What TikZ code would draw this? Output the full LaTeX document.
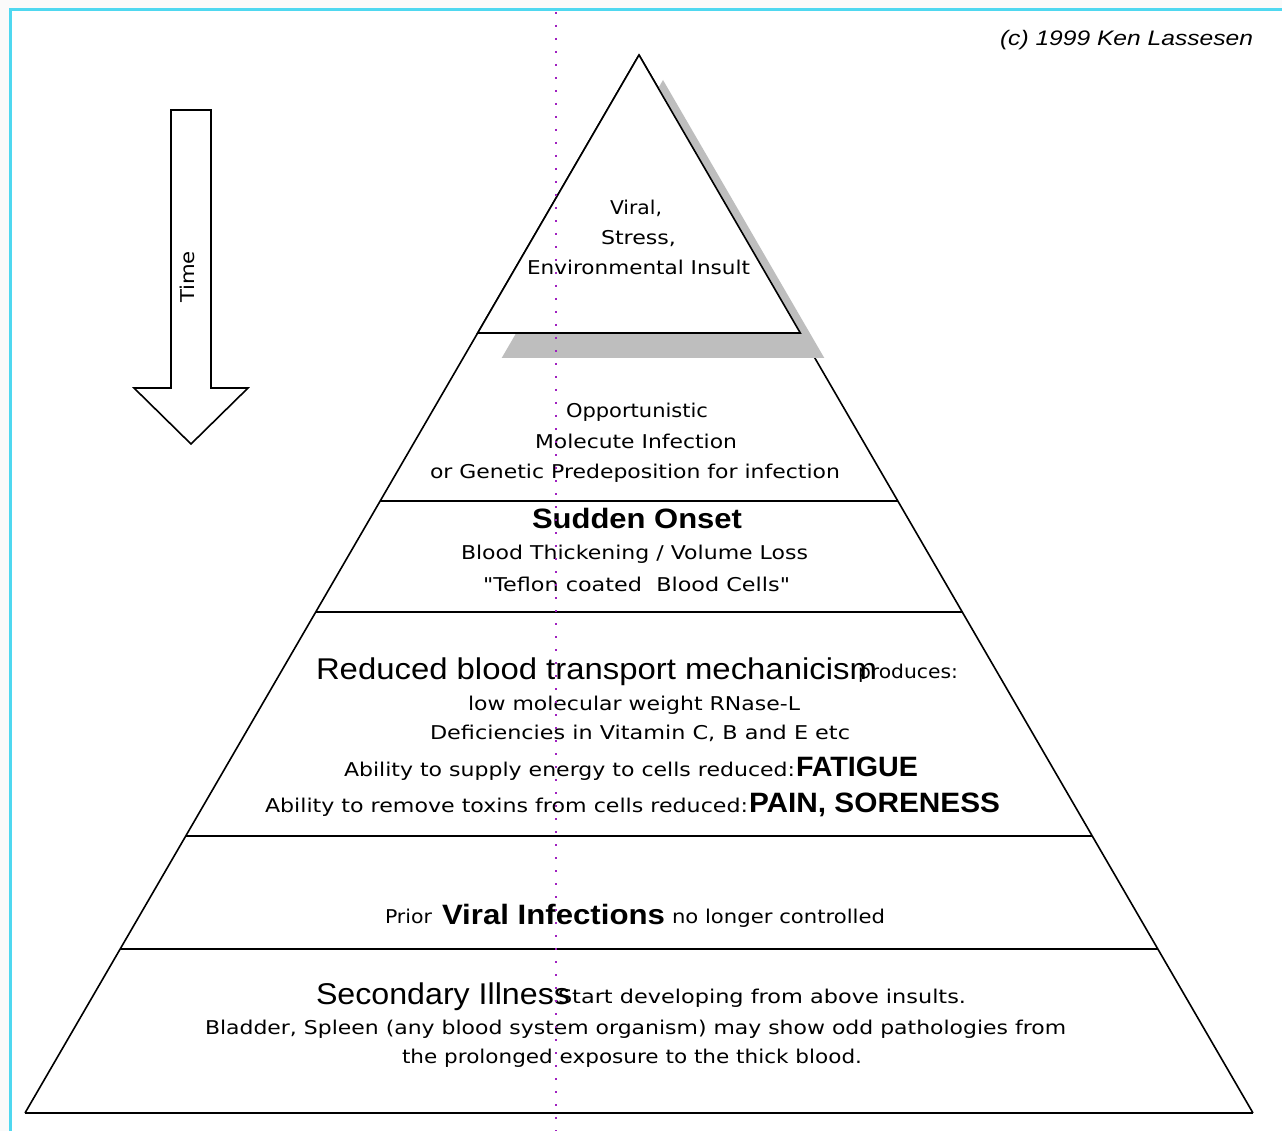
\documentclass[tikz,border=0pt]{standalone}
\usepackage{fontspec}
\usepackage{graphicx}
\setmainfont{Liberation Sans}
\newfontfamily\dvsans{DejaVu Sans}
\usetikzlibrary{calc}

% stretch a piece of text horizontally to a given width (in pt)
\newsavebox\fitbox
\newlength\fitwd
\newcommand\fitto[2]{\sbox\fitbox{#2}\setlength\fitwd{\wd\fitbox}%
  \pgfmathsetmacro\fitr{#1/\fitwd}\scalebox{\fitr}[1]{\usebox\fitbox}}

\definecolor{framecyan}{HTML}{4FD8F0}
\definecolor{guideviolet}{HTML}{A020C0}
\definecolor{shadowgray}{HTML}{BEBEBE}

\tikzset{
  lbl/.style={anchor=base west, inner sep=0pt, outer sep=0pt},
  sm/.style={lbl, font=\dvsans\fontsize{19}{21}\selectfont},
  bold/.style={lbl, font=\bfseries\fontsize{28}{30}\selectfont},
  big/.style={lbl, font=\fontsize{30}{32}\selectfont},
  edge/.style={line width=1.6pt, black},
  tier/.style={line width=2pt, black},
}

\begin{document}
\begin{tikzpicture}[x=1pt, y=-1pt]
\useasboundingbox (0,0) rectangle (1282,1131);
\fill[gray!4] (0,0) rectangle (1282,1131);
\fill[white] (10,10) rectangle (1282,1131);
\draw[framecyan, line width=3pt] (10,1131) -- (10,10) -- (1282,10);

% pyramid corners
\coordinate (apex) at (639,55);
\coordinate (bl) at (25,1113);
\coordinate (br) at (1253,1113);
\coordinate (l1) at (477.7,333);  \coordinate (r1) at (800.3,333);
\coordinate (l2) at (380.2,501);  \coordinate (r2) at (897.8,501);
\coordinate (l3) at (315.8,612);  \coordinate (r3) at (962.2,612);
\coordinate (l4) at (185.8,836);  \coordinate (r4) at (1092.2,836);
\coordinate (l5) at (120.2,949);  \coordinate (r5) at (1157.8,949);

% outer slopes and tier lines
\draw[edge] (apex) -- (bl);
\draw[edge] (apex) -- (br);
\draw[tier] (l2) -- (r2);
\draw[tier] (l3) -- (r3);
\draw[tier] (l4) -- (r4);
\draw[tier] (l5) -- (r5);
\draw[line width=2.8pt] (bl) -- (br);

% drop shadow of the top triangle
\fill[shadowgray] ($(apex)+(24,25)$) -- ($(l1)+(24,25)$) -- ($(r1)+(24,25)$) -- cycle;
\draw[edge, fill=white] (apex) -- (l1) -- (r1) -- cycle;

% time arrow
\draw[line width=1.6pt, fill=white]
  (171,110) -- (211,110) -- (211,388) -- (248,388) -- (191,444)
  -- (134,388) -- (171,388) -- cycle;
\node[rotate=90, inner sep=0pt, font=\dvsans\fontsize{19}{21}\selectfont] (time) at (187,277) {\fitto{52}{Time}};

% copyright
\node[lbl, font=\itshape\fontsize{21}{24}\selectfont] (copy) at (1000,46) {\fitto{253}{(c) 1999 Ken Lassesen}};

% top tier
\node[sm] (a1) at (610,215) {\fitto{52}{Viral,}};
\node[sm] (a2) at (601,245) {\fitto{75}{Stress,}};
\node[sm] (a3) at (527,275) {\fitto{223}{Environmental Insult}};

% second tier
\node[sm] (b1) at (566,417) {\fitto{142}{Opportunistic}};
\node[sm] (b2) at (535,448) {\fitto{202}{Molecute Infection}};
\node[sm] (b3) at (430,478) {\fitto{410}{or Genetic Predeposition for infection}};

% third tier
\node[bold] (c1) at (532,528) {\fitto{210}{Sudden Onset}};
\node[sm] (c2) at (461,559) {\fitto{347}{Blood Thickening / Volume Loss}};
\node[sm] (c3) at (483,591) {\fitto{307}{"Teflon coated \ Blood Cells"}};

% fourth tier
\node[big] (d1) at (316,679) {\fitto{561}{Reduced blood transport mechanicism}};
\node[sm] (d2) at (858,678) {\fitto{100}{produces:}};
\node[sm] (d3) at (468,710) {\fitto{332}{low molecular weight RNase-L}};
\node[sm] (d4) at (430,739) {\fitto{420}{Deficiencies in Vitamin C, B and E etc}};
\node[sm] (d5) at (344,776) {\fitto{451}{Ability to supply energy to cells reduced:}};
\node[bold] (d6) at (796,776) {\fitto{122}{FATIGUE}};
\node[sm] (d7) at (265,812) {\fitto{483}{Ability to remove toxins from cells reduced:}};
\node[bold] (d8) at (749,812) {\fitto{251}{PAIN, SORENESS}};

% fifth tier
\node[sm] (e1) at (385,923) {\fitto{47}{Prior}};
\node[bold] (e2) at (442,924) {\fitto{223}{Viral Infections}};
\node[sm] (e3) at (672,923) {\fitto{213}{no longer controlled}};

% base tier
\node[big] (f1) at (316,1004) {\fitto{254}{Secondary Illness}};
\node[sm] (f2) at (558,1003) {\fitto{408}{Start developing from above insults.}};
\node[sm] (f3) at (205,1034) {\fitto{861}{Bladder, Spleen (any blood system organism) may show odd pathologies from}};
\node[sm] (f4) at (402,1063) {\fitto{460}{the prolonged exposure to the thick blood.}};

% vertical dotted guide
\coordinate (gtop) at (556,12);
\coordinate (gbot) at (556,1131);
\draw[guideviolet, line width=2.4pt, dash pattern=on 2.4pt off 10.6pt] (gtop) -- (gbot);
\end{tikzpicture}
\end{document}
